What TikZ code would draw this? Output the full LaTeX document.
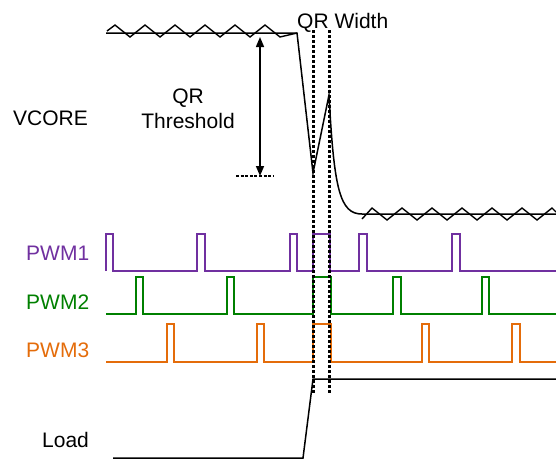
\documentclass[tikz,border=0pt]{standalone}
\usepackage{fontspec}
\setmainfont{Liberation Sans}
\usetikzlibrary{arrows.meta}

\definecolor{pwmpurple}{RGB}{112,48,160}
\definecolor{pwmgreen}{RGB}{0,128,0}
\definecolor{pwmorange}{RGB}{228,108,10}

\begin{document}
\begin{tikzpicture}[
  x=1pt, y=-1pt,
  every node/.style={font=\fontsize{21}{25}\selectfont, inner sep=0pt},
  label/.style={anchor=base west},
  wave/.style={line width=1.5pt, black, line join=miter},
  zig/.style={line width=1.4pt, black},
  pwmone/.style={line width=1.8pt, pwmpurple},
  pwmtwo/.style={line width=1.8pt, pwmgreen},
  pwmthree/.style={line width=1.8pt, pwmorange},
  marker/.style={line width=3pt, black, dash pattern=on 3pt off 2pt},
  level/.style={line width=2pt, black, dash pattern=on 3pt off 1.6pt},
  arrow/.style={{Triangle[length=10pt,width=8pt]}-{Triangle[length=10pt,width=8pt]}, line width=1.5pt}
]
  \useasboundingbox (0,0) rectangle (556,459);

  % Labels
  \node[label] (vcore) at (13,125) {VCORE};
  \node[label, text=pwmpurple] (pwm1) at (26,260) {PWM1};
  \node[label, text=pwmgreen] (pwm2) at (26,309) {PWM2};
  \node[label, text=pwmorange] (pwm3) at (26,357) {PWM3};
  \node[label] (load) at (42,447) {Load};
  \node[label] (qrwidth) at (297,28) {QR Width};
  \node[align=center] (qrthr) at (188,109) {QR\\Threshold};

  % VCORE waveform
  \draw[wave] (106,33) -- (297,33) -- (313,173) -- (329,95)
    .. controls (334,190) and (340,214) .. (362,214) -- (556,214);
  \draw[zig] (107,31) \foreach \k in {0,...,5} { -- (115+30*\k,25) -- (130+30*\k,37) } -- (297,33);
  \draw[zig] (362,219) \foreach \k in {0,...,5} { -- (372+30*\k,208) -- (387+30*\k,220) } -- (552,208) -- (556,212);

  % QR threshold
  \coordinate (thrtop) at (260,37);
  \coordinate (thrbot) at (260,176);
  \draw[level] (236,176) -- (274,176);
  \draw[arrow] (thrtop) -- (thrbot);

  % PWM phases
  \draw[pwmone] (106,271) -- (106,234) -| (113,271) -| (197,234) -| (205,271) -| (290,234) -| (297,271)
    -| (313,234) -| (330,271) -| (359,234) -| (367,271) -| (452,234) -| (460,271) -- (556,271);
  \draw[pwmtwo] (106,314) -| (136,277) -| (143,314) -| (227,277) -| (234,314) -| (313,277)
    -| (331,314) -| (393,277) -| (401,314) -| (482,277) -| (489,314) -- (556,314);
  \draw[pwmthree] (106,362) -| (167,324) -| (174,362) -| (257,324) -| (264,362) -| (313,324)
    -| (331,362) -| (422,324) -| (429,362) -| (512,324) -| (520,362) -- (556,362);

  % Load step
  \draw[wave] (113,458) -- (303,458) -- (313,379) -- (556,379);

  % QR width markers
  \coordinate (qrl) at (313,30);
  \coordinate (qrr) at (329,30);
  \draw[marker] (qrl) -- (qrl |- 0,394);
  \draw[marker] (qrr) -- (qrr |- 0,394);
\end{tikzpicture}
\end{document}
